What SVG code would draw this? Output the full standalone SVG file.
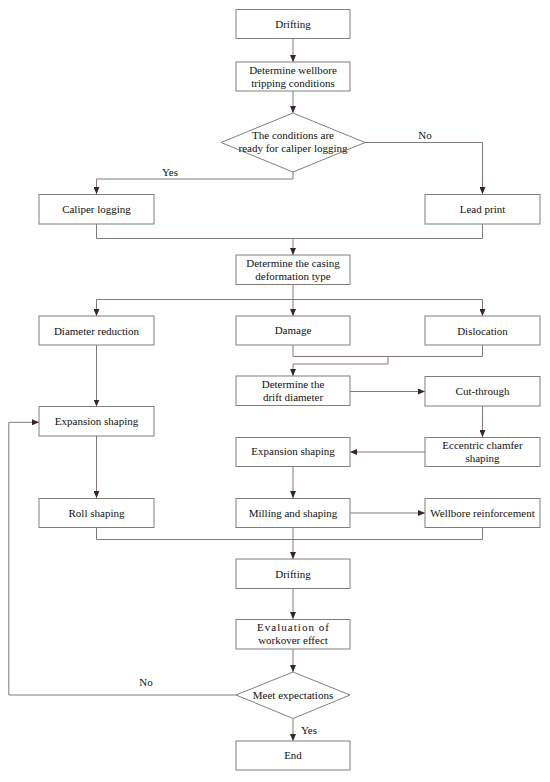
<svg xmlns="http://www.w3.org/2000/svg" width="550" height="782" viewBox="0 0 550 782">
<defs>
<style>
.box{fill:#fff;stroke:#7f7f7f;stroke-width:1}
.t{font-family:"Liberation Serif","Times New Roman",serif;font-size:11px;fill:#111;text-anchor:middle}
.c{fill:none;stroke:#857a7a;stroke-width:1}
.a{marker-end:url(#ah)}
</style>
<marker id="ah" markerUnits="userSpaceOnUse" markerWidth="7" markerHeight="6" refX="7" refY="3" orient="auto">
<path d="M0,0 L7,3 L0,6 z" fill="#3a2525"/>
</marker>
</defs>
<rect width="550" height="782" fill="#fff"/>
<g id="connectors">
<path class="c a" d="M293,38.5 V62"/>
<path class="c a" d="M293,91 V113"/>
<path class="c a" d="M293,172 V179 H96.5 V194"/>
<path class="c a" d="M365,142.5 H482.5 V194"/>
<path class="c" d="M96.5,224 V238.5 H482.5 V224"/>
<path class="c a" d="M293,238.5 V255"/>
<path class="c" d="M293,284.5 V299.5"/>
<path class="c a" d="M96.5,299.5 H482.5 V316"/>
<path class="c a" d="M96.5,299.5 V316"/>
<path class="c a" d="M293,299.5 V316"/>
<path class="c" d="M293,345 V356.5 H482.5 V345"/>
<path class="c a" d="M388,356.5 V364 H293 V376"/>
<path class="c a" d="M350,391.5 H425"/>
<path class="c a" d="M482.5,406 V437"/>
<path class="c a" d="M425,452 H350"/>
<path class="c a" d="M293,467 V498"/>
<path class="c a" d="M350,513 H425"/>
<path class="c a" d="M96.5,345 V406.5"/>
<path class="c a" d="M96.5,436 V498"/>
<path class="c" d="M96.5,527.5 V539.5 H482.5 V527.5"/>
<path class="c a" d="M293,527.5 V559"/>
<path class="c a" d="M293,588.5 V619"/>
<path class="c a" d="M293,649 V672"/>
<path class="c a" d="M293,718.5 V741"/>
<path class="c a" d="M236,695 H8.8 V422.3 H39"/>
<text class="t" x="170" y="176" font-size="12">Yes</text>
<text class="t" x="425" y="139" font-size="12">No</text>
<text class="t" x="146" y="686" font-size="12">No</text>
<text class="t" x="309" y="734" font-size="12">Yes</text>
</g>
<g id="n1"><rect class="box" x="236" y="9.5" width="114" height="29"/><text class="t" x="293" y="28">Drifting</text></g>
<g id="n2"><rect class="box" x="236" y="62" width="114" height="29"/><text class="t" x="293" y="73.5">Determine wellbore</text><text class="t" x="293" y="86.5">tripping conditions</text></g>
<g id="n3"><polygon class="box" points="293,113 365,142.5 293,172 221,142.5"/><text class="t" x="293" y="138.5">The conditions are</text><text class="t" x="293" y="151.5">ready for caliper logging</text></g>
<g id="n4"><rect class="box" x="39" y="194.5" width="115" height="29.5"/><text class="t" x="96.5" y="213">Caliper logging</text></g>
<g id="n5"><rect class="box" x="425" y="194.5" width="115" height="29.5"/><text class="t" x="482.5" y="212.5">Lead print</text></g>
<g id="n6"><rect class="box" x="236" y="255" width="114" height="29.5"/><text class="t" x="293" y="267">Determine the casing</text><text class="t" x="293" y="280">deformation type</text></g>
<g id="n7"><rect class="box" x="39" y="316" width="115" height="29"/><text class="t" x="96.5" y="334.5">Diameter reduction</text></g>
<g id="n8"><rect class="box" x="236" y="316" width="114" height="29"/><text class="t" x="293" y="333.5">Damage</text></g>
<g id="n9"><rect class="box" x="425" y="316" width="115" height="29"/><text class="t" x="482.5" y="334.5">Dislocation</text></g>
<g id="n10"><rect class="box" x="236" y="376" width="114" height="29.5"/><text class="t" x="293" y="387.5">Determine the</text><text class="t" x="293" y="400.5">drift diameter</text></g>
<g id="n11"><rect class="box" x="425" y="376.5" width="115" height="29.5"/><text class="t" x="482.5" y="394.5">Cut-through</text></g>
<g id="n12"><rect class="box" x="39" y="406.5" width="115" height="29.5"/><text class="t" x="96.5" y="424.5">Expansion shaping</text></g>
<g id="n13"><rect class="box" x="425" y="437.5" width="115" height="29"/><text class="t" x="482.5" y="448.5">Eccentric chamfer</text><text class="t" x="482.5" y="461.5">shaping</text></g>
<g id="n14"><rect class="box" x="236" y="437.5" width="114" height="29"/><text class="t" x="293" y="455">Expansion shaping</text></g>
<g id="n15"><rect class="box" x="39" y="498.5" width="115" height="29"/><text class="t" x="96.5" y="516.5">Roll shaping</text></g>
<g id="n16"><rect class="box" x="236" y="498.5" width="114" height="29"/><text class="t" x="293" y="516.5">Milling and shaping</text></g>
<g id="n17"><rect class="box" x="425" y="498.5" width="115" height="29"/><text class="t" x="482.5" y="516.5">Wellbore reinforcement</text></g>
<g id="n18"><rect class="box" x="236" y="559" width="114" height="29.5"/><text class="t" x="293" y="577.5">Drifting</text></g>
<g id="n19"><rect class="box" x="236" y="619.5" width="114" height="29.5"/><text class="t" x="293" y="631" textLength="72" lengthAdjust="spacing">Evaluation of</text><text class="t" x="293" y="644">workover effect</text></g>
<g id="n20"><polygon class="box" points="293,672 350,695 293,718.5 236,695"/><text class="t" x="293" y="699">Meet expectations</text></g>
<g id="n21"><rect class="box" x="236" y="741" width="114" height="29"/><text class="t" x="293" y="759">End</text></g>
</svg>
